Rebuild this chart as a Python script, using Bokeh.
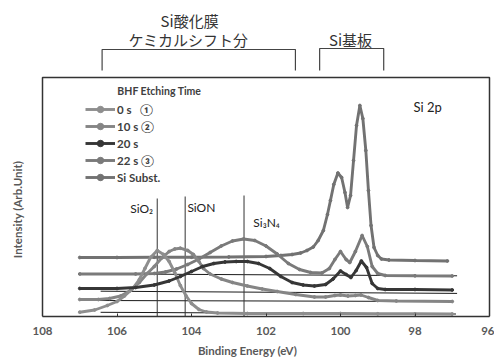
import math
from bokeh.plotting import figure
from bokeh.models import Range1d, FixedTicker, Legend, LegendItem
from bokeh.core.properties import value
from bokeh.embed import file_html
from bokeh.resources import INLINE

# ---------------- data (binding energy in eV, intensity in arb. units incl. offset) -------------
energy_0s = [107.0, 106.6, 106.26, 106.0, 105.8, 105.6, 105.4, 105.25, 105.1, 104.92, 104.75, 104.6,
             104.45, 104.3, 104.15, 104.0, 103.8, 103.6, 103.3, 102.5, 101.0, 100.0, 99.0, 98.0, 97.0]
intensity_0s = [4.3, 6.5, 11, 15, 20.5, 27, 37, 48, 59, 66, 62, 55,
                44, 31, 21, 13, 7, 4.5, 3.5, 3, 3, 3, 2.7, 2.7, 2.5]

energy_10s = [107.0, 106.5, 106.2, 105.9, 105.64, 105.4, 105.19, 105.0, 104.8, 104.6, 104.45, 104.3,
              104.1, 103.95, 103.8, 103.68, 103.5, 103.2, 102.9, 102.5, 102.1, 101.7, 101.2, 100.7,
              100.4, 100.15, 100.0, 99.8, 99.6, 99.45, 99.25, 99.0, 98.5, 97.0]
intensity_10s = [17, 17, 18, 20.5, 26, 34, 43, 50, 58.5, 65, 67.5, 68.3,
                 66, 62, 55, 48, 42.5, 37.5, 34, 30.5, 27.5, 25, 22, 19.5,
                 19.5, 21, 21.5, 20.5, 21, 21.5, 19, 16, 15.5, 15]

energy_20s = [107.0, 106.0, 105.5, 105.0, 104.6, 104.3, 104.0, 103.7, 103.4, 103.1, 102.8, 102.5,
              102.2, 101.9, 101.6, 101.3, 101.0, 100.7, 100.4, 100.2, 100.0, 99.85, 99.72, 99.58,
              99.44, 99.3, 99.15, 99.0, 98.8, 98.0, 97.0]
intensity_20s = [28, 28, 29, 31.5, 35.5, 40, 45, 50, 53, 54.5, 55, 55,
                 53, 48, 40, 34, 31.5, 30.5, 32, 37.5, 45.5, 42, 39, 46,
                 55.5, 49, 33, 28, 27, 27, 26.5]

energy_22s = [107.0, 105.5, 105.0, 104.7, 104.4, 104.1, 103.8, 103.5, 103.2, 102.9, 102.6, 102.3,
              102.0, 101.7, 101.4, 101.1, 100.8, 100.5, 100.3, 100.15, 100.0, 99.85, 99.75, 99.6,
              99.42, 99.28, 99.15, 99.0, 98.8, 98.0, 97.0]
intensity_22s = [42.5, 42.5, 43, 44.5, 47.5, 52, 57.5, 64, 70.5, 75.5, 77.5, 76,
                 70.5, 62.5, 53, 47, 44, 43.5, 48, 57, 65, 57, 54, 65,
                 81, 70, 50, 43, 41, 40.7, 40.5]

energy_si = [107.0, 106.0, 105.0, 104.0, 103.0, 102.0, 101.6, 101.3, 101.07, 100.9, 100.73, 100.6,
             100.46, 100.35, 100.27, 100.18, 100.07, 99.97, 99.88, 99.81, 99.73, 99.65, 99.57, 99.48,
             99.4, 99.32, 99.25, 99.18, 99.1, 99.0, 98.9, 98.7, 98.0, 97.13]
intensity_si = [59, 59, 59.3, 59.3, 59.5, 60, 61, 62, 63.5, 66, 69.5, 76,
                86, 102, 116, 132, 143.5, 139, 124, 109, 121, 156, 191, 211,
                198, 166, 126, 91, 69, 61, 57.5, 56.5, 56, 55.5]

series_labels = ["0 s   \u2460", "10 s \u2461", "20 s", "22 s \u2462", "Si Subst."]
series_colors = ["#8e8e8e", "#858585", "#363636", "#7a7a7a", "#727272"]

# linear background lines (start/end energy, start/end intensity)
bg_start_ev = [107.0, 106.44, 106.58, 106.44]
bg_end_ev = [96.87, 96.87, 96.97, 96.9]
bg_start_int = [42.7, 25.3, 16.0, 4.2]
bg_end_int = [40.7, 23.1, 15.0, 2.5]

# chemical-state reference energies
ref_names = ["SiO\u2082", "SiON", "Si\u2083N\u2084"]
ref_ev = [104.92, 104.17, 102.59]
ref_top = [118, 120, 121]

x_ticks = [108, 106, 104, 102, 100, 98, 96]

# ---------------- figure --------------------------------------------------------------------
scale = 447 / 12.0          # pixels per eV
p = figure(frame_width=494, frame_height=316,
           x_range=Range1d(108 + 42 / scale, 96 - 5 / scale),
           y_range=Range1d(0, 316),
           y_axis_location=None,
           output_backend="svg", toolbar_location=None,
           min_border_left=0, min_border_top=0, min_border_right=0, min_border_bottom=0)
p.outline_line_color = None
p.grid.visible = False
p.background_fill_color = "white"
p.border_fill_color = "white"

ax = p.xaxis[0]
ax.ticker = FixedTicker(ticks=x_ticks)
ax.bounds = (96, 108)
ax.axis_line_color = "#333333"
ax.axis_line_width = 1.5
ax.major_tick_in = 3
ax.major_tick_out = 0
ax.major_tick_line_color = "#333333"
ax.minor_tick_line_color = None
ax.major_label_text_font = "Lato"
ax.major_label_text_font_style = "bold"
ax.major_label_text_font_size = "11.5px"
ax.major_label_text_color = "#595959"
ax.major_label_standoff = 10
ax.axis_label = "Binding Energy (eV)"
ax.axis_label_text_font = "Lato"
ax.axis_label_text_font_style = "bold"
ax.axis_label_text_font_size = "11.5px"
ax.axis_label_text_color = "#595959"
ax.axis_label_standoff = 6

# frame box (left, top, right; bottom is the axis line)
p.line([108, 108, 96, 96], [0, 239, 239, 0], line_color="#333333", line_width=1.5)

# background lines
p.segment(x0=bg_start_ev, y0=bg_start_int, x1=bg_end_ev, y1=bg_end_int,
          line_color="#1a1a1a", line_width=1)

# reference lines
p.segment(x0=ref_ev, y0=[0, 0, 0], x1=ref_ev, y1=ref_top, line_color="#333333", line_width=1)

# spectra
data = [(energy_0s, intensity_0s), (energy_10s, intensity_10s), (energy_20s, intensity_20s),
        (energy_22s, intensity_22s), (energy_si, intensity_si)]
renders = {}
for i in [4, 3, 1, 0, 2]:
    ev, it = data[i]
    lr = p.line(ev, it, line_color=series_colors[i], line_width=2.9)
    sr = p.scatter(ev, it, size=2.8, marker="circle", fill_color=series_colors[i],
                   line_color=series_colors[i])
    renders[i] = [lr, sr]
items = [LegendItem(label=series_labels[i], renderers=renders[i]) for i in range(5)]

legend = Legend(items=items, location=(85, 131), padding=0, margin=0,
                border_line_color=None, background_fill_alpha=0,
                glyph_width=30, glyph_height=16, label_height=16, spacing=1,
                label_standoff=2, label_text_font="Lato", label_text_font_style="bold",
                label_text_font_size="11.5px", label_text_color="#404040")
p.add_layout(legend, "center")

# legend title
p.text(x=[105.99], y=[226], text=["BHF Etching Time"], text_font=value("Lato"),
       text_font_style="bold", text_font_size="10.5px", text_color="#404040",
       text_align="left", text_baseline="middle")

# Si 2p
p.text(x=[98.04], y=[210], text=["Si 2p"], text_font=value("Lato"),
       text_font_size="13px", text_color="#222222", text_align="left", text_baseline="middle")

# reference labels
p.text(x=[ref_ev[0] + 0.11, ref_ev[1] - 0.06, ref_ev[2] - 0.25], y=[108, 109, 94],
       text=ref_names, text_font=value("Lato"), text_font_size="12px", text_color="#222222",
       text_align=["right", "left", "left"], text_baseline="middle")

# y axis title
p.text(x=[108 + 25 / scale], y=[107], text=["Intensity (Arb.Unit)"],
       text_font=value("Lato"), text_font_style="bold", text_font_size="11.5px",
       text_color="#595959", angle=math.pi / 2, text_align="center", text_baseline="middle")

# brackets and Japanese annotations above the frame
p.line([106.4, 106.4, 101.21, 101.21], [246, 267, 267, 246], line_color="#444444", line_width=1.2)
p.line([100.56, 100.56, 98.84, 98.84], [246, 268, 268, 246], line_color="#444444", line_width=1.2)
p.text(x=[104.05, 104.08, 99.73], y=[296, 277, 277],
       text=["Si酸化膜", "ケミカルシフト分", "Si基板"],
       text_font=value("Noto Sans CJK JP"), text_font_size="15px", text_color="#333333",
       text_align="center", text_baseline="middle")

open("out.html", "w").write(file_html(p, INLINE))
